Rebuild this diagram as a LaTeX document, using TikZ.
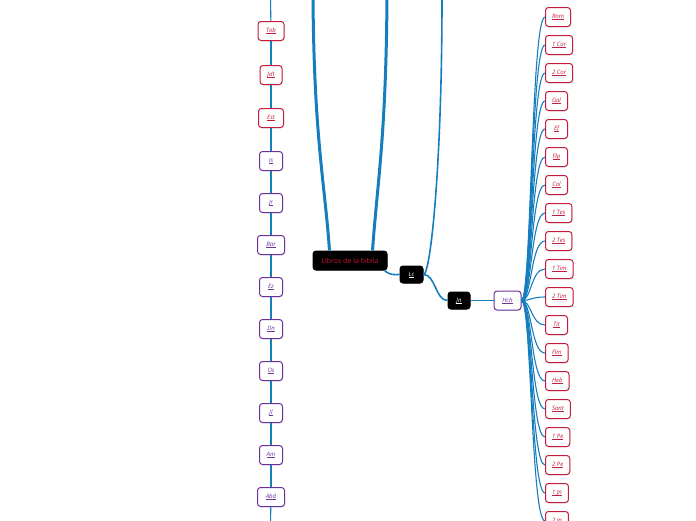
\documentclass[tikz,border=0pt]{standalone}
\usepackage{fontspec}
\setmainfont{Open Sans}
\usepackage{tikz}
\usetikzlibrary{positioning,shadows}
\definecolor{cLine}{RGB}{22,126,190}
\definecolor{cRed}{RGB}{196,28,58}
\definecolor{cPurple}{RGB}{108,48,156}
\definecolor{cTitle}{RGB}{205,22,52}
\newcommand{\lnk}[1]{\leavevmode\setbox0\hbox{#1}\rlap{\rule[-0.9pt]{\wd0}{0.4pt}}\box0}
\tikzset{
  basebox/.style={rectangle,rounded corners=3pt,line width=1pt,fill=white,
                  align=center,font=\fontsize{6}{7}\selectfont\itshape,
                  minimum height=19pt,inner xsep=5.5pt,
                  drop shadow={shadow xshift=0.6pt,shadow yshift=-0.9pt,opacity=0.25}},
  rednode/.style={basebox,draw=cRed,text=cRed,minimum width=22pt},
  purplenode/.style={basebox,draw=cPurple,text=cPurple,minimum width=23pt},
  epinode/.style={rednode,inner xsep=6.5pt},
  blacknode/.style={basebox,fill=black,draw=black,text=white,minimum height=17pt},
  conn/.style={line width=1.1pt,color=cLine},
  thkconn/.style={line width=3pt,color=cLine},
  midconn/.style={line width=1.6pt,color=cLine}
}
\begin{document}
\begin{tikzpicture}[x=1pt,y=-1pt,node distance=22pt]
  \useasboundingbox (0,0) rectangle (696,520);

  % centre
  \node[blacknode,minimum width=74pt,minimum height=19pt,text=cTitle,
        font=\fontsize{7}{8}\selectfont] (lib) at (350,260.5) {Libros de la biblia};
  \node[blacknode,minimum width=23pt] (lc) at (411.5,274.5) {\lnk{Lc}};
  \node[blacknode,minimum width=22pt] (jn) at (459,300.5) {\lnk{Jn}};
  \node[purplenode,minimum width=27pt] (hch) at (507.5,300.5) {\lnk{Hch}};

  \coordinate (topA) at (313,-3);
  \coordinate (topB) at (387,-3);
  \coordinate (topC) at (442,-3);
  \draw[thkconn] ([xshift=17pt]lib.north west) .. controls +(-5,-70) and +(1,140) .. (topA);
  \draw[thkconn] ([xshift=-15pt]lib.north east) .. controls +(5,-70) and +(-1,140) .. (topB);
  \draw[midconn] (lc.east) .. controls +(7,0) and +(0,170) .. (topC);
  \draw[midconn] ([xshift=-3pt]lib.south east) .. controls +(6,5) and +(-6,0) .. (lc.west);
  \draw[midconn] (lc.east) .. controls +(12,0) and +(-12,0) .. (jn.west);
  \draw[midconn] (jn.east) -- (hch.west);

  % left column
  \node[rednode,minimum width=26pt] (tob) at (271,31) {\lnk{Tob}};
  \node[rednode,below=24pt of tob] (jdt) {\lnk{Jdt}};
  \node[rednode,minimum width=25pt,below=23pt of jdt] (est) {\lnk{Est}};
  \node[purplenode,below=23pt of est] (is) {\lnk{Is}};
  \node[purplenode,below=of is] (jr) {\lnk{Jr}};
  \node[purplenode,minimum width=27pt,below=of jr] (bar) {\lnk{Bar}};
  \node[purplenode,below=of bar] (ez) {\lnk{Ez}};
  \node[purplenode,below=of ez] (dn) {\lnk{Dn}};
  \node[purplenode,below=of dn] (os) {\lnk{Os}};
  \node[purplenode,below=of os] (jl) {\lnk{Jl}};
  \node[purplenode,below=of jl] (am) {\lnk{Am}};
  \node[purplenode,minimum width=27pt,below=of am] (abd) {\lnk{Abd}};
  \coordinate (colTop) at (270.5,-3);
  \coordinate (colBot) at (270.5,523);
  \draw[conn] (colTop) -- (tob);
  \draw[conn] (tob) -- (jdt);  \draw[conn] (jdt) -- (est);
  \draw[conn] (est) -- (is);   \draw[conn] (is) -- (jr);
  \draw[conn] (jr) -- (bar);   \draw[conn] (bar) -- (ez);
  \draw[conn] (ez) -- (dn);    \draw[conn] (dn) -- (os);
  \draw[conn] (os) -- (jl);    \draw[conn] (jl) -- (am);
  \draw[conn] (am) -- (abd);   \draw[conn] (abd) -- (colBot);

  % epistles
  \node[epinode,anchor=west] (rom) at (545,17) {\lnk{Rom}};
  \node[epinode,below right=8pt and 0pt of rom.south west] (cor1) {\lnk{1 Cor}};
  \node[epinode,below right=8pt and 0pt of cor1.south west] (cor2) {\lnk{2 Cor}};
  \node[epinode,below right=8pt and 0pt of cor2.south west] (gal) {\lnk{Gal}};
  \node[epinode,below right=8pt and 0pt of gal.south west] (ef) {\lnk{Ef}};
  \node[epinode,below right=8pt and 0pt of ef.south west] (flp) {\lnk{Flp}};
  \node[epinode,below right=8pt and 0pt of flp.south west] (col) {\lnk{Col}};
  \node[epinode,below right=8pt and 0pt of col.south west] (tes1) {\lnk{1 Tes}};
  \node[epinode,below right=8pt and 0pt of tes1.south west] (tes2) {\lnk{2 Tes}};
  \node[epinode,below right=8pt and 0pt of tes2.south west] (tim1) {\lnk{1 Tim}};
  \node[epinode,below right=8pt and 0pt of tim1.south west] (tim2) {\lnk{2 Tim}};
  \node[epinode,below right=8pt and 0pt of tim2.south west] (tit) {\lnk{Tit}};
  \node[epinode,below right=8pt and 0pt of tit.south west] (flm) {\lnk{Flm}};
  \node[epinode,below right=8pt and 0pt of flm.south west] (heb) {\lnk{Heb}};
  \node[epinode,below right=8pt and 0pt of heb.south west] (sant) {\lnk{Sant}};
  \node[epinode,below right=8pt and 0pt of sant.south west] (pe1) {\lnk{1 Pe}};
  \node[epinode,below right=8pt and 0pt of pe1.south west] (pe2) {\lnk{2 Pe}};
  \node[epinode,below right=8pt and 0pt of pe2.south west] (jn1) {\lnk{1 Jn}};
  \node[epinode,below right=8pt and 0pt of jn1.south west] (jn2) {\lnk{2 Jn}};

  \draw[conn] (hch.east) .. controls +(10,0) and +(-14,0) .. (rom.west);
  \draw[conn] (hch.east) .. controls +(10,0) and +(-14,0) .. (cor1.west);
  \draw[conn] (hch.east) .. controls +(10,0) and +(-14,0) .. (cor2.west);
  \draw[conn] (hch.east) .. controls +(10,0) and +(-14,0) .. (gal.west);
  \draw[conn] (hch.east) .. controls +(10,0) and +(-14,0) .. (ef.west);
  \draw[conn] (hch.east) .. controls +(10,0) and +(-14,0) .. (flp.west);
  \draw[conn] (hch.east) .. controls +(10,0) and +(-14,0) .. (col.west);
  \draw[conn] (hch.east) .. controls +(10,0) and +(-14,0) .. (tes1.west);
  \draw[conn] (hch.east) .. controls +(10,0) and +(-14,0) .. (tes2.west);
  \draw[conn] (hch.east) .. controls +(10,0) and +(-14,0) .. (tim1.west);
  \draw[conn] (hch.east) .. controls +(10,0) and +(-14,0) .. (tim2.west);
  \draw[conn] (hch.east) .. controls +(10,0) and +(-14,0) .. (tit.west);
  \draw[conn] (hch.east) .. controls +(10,0) and +(-14,0) .. (flm.west);
  \draw[conn] (hch.east) .. controls +(10,0) and +(-14,0) .. (heb.west);
  \draw[conn] (hch.east) .. controls +(10,0) and +(-14,0) .. (sant.west);
  \draw[conn] (hch.east) .. controls +(10,0) and +(-14,0) .. (pe1.west);
  \draw[conn] (hch.east) .. controls +(10,0) and +(-14,0) .. (pe2.west);
  \draw[conn] (hch.east) .. controls +(10,0) and +(-14,0) .. (jn1.west);
  \draw[conn] (hch.east) .. controls +(10,0) and +(-14,0) .. (jn2.west);
\end{tikzpicture}
\end{document}
